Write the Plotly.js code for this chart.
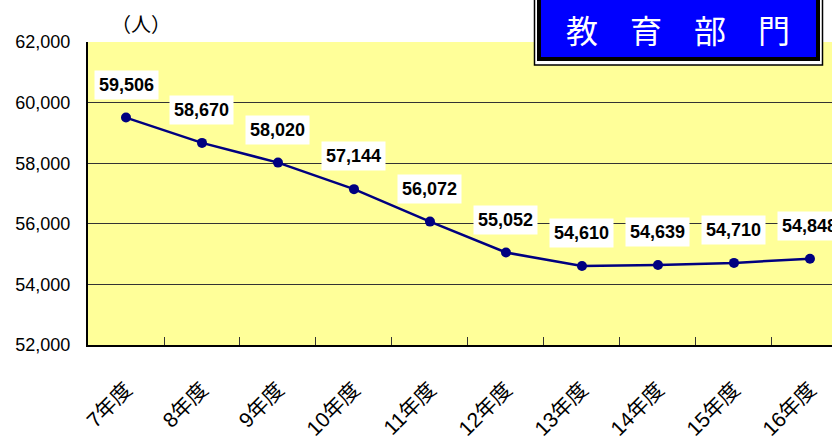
<!DOCTYPE html>
<html><head><meta charset="utf-8">
<script src="https://cdn.plot.ly/plotly-3.0.1.min.js"></script>
<style>body{margin:0;padding:0;background:#fff}#chart{width:832px;height:443px}</style>
</head><body><div id="chart"></div>
<script>
const categories = ["7年度","8年度","9年度","10年度","11年度","12年度","13年度","14年度","15年度","16年度"];
const values = [59506, 58670, 58020, 57144, 56072, 55052, 54610, 54639, 54710, 54848];
const yTicks = [52000, 54000, 56000, 58000, 60000, 62000];
const yTickLabels = ["52,000","54,000","56,000","58,000","60,000","62,000"];
const unitLabel = "（人）";
const titleText = "教　育　部　門";

const numFont = "'Liberation Sans', Arial, sans-serif";
const cjkFont = "'Liberation Sans', 'Noto Sans CJK JP', sans-serif";

const L = 88, T = 42, PW = 744, PH = 303;
const px = x => (x - L) / PW;
const py = y => (T + PH - y) / PH;

const trace = {
  x: categories, y: values, type: "scatter", mode: "lines+markers",
  line: {color: "#000080", width: 2.5},
  marker: {color: "#000080", size: 10},
  hoverinfo: "skip", showlegend: false, cliponaxis: false
};

const annotations = categories.map((c, i) => ({
  x: c, y: values[i], xref: "x", yref: "y",
  text: "<b>" + values[i].toLocaleString("en-US") + "</b>",
  showarrow: false, yshift: 33,
  bgcolor: "#ffffff", borderpad: 4,
  font: {family: numFont, size: 18, color: "#000"}
}));
annotations.push({
  xref: "paper", yref: "paper", x: px(141), y: py(23), yanchor: "middle", xanchor: "center",
  text: unitLabel, showarrow: false,
  font: {family: "'Noto Sans CJK JP', sans-serif", size: 20, color: "#000"}
});
annotations.push({
  xref: "paper", yref: "paper", x: px(678), y: py(29), xanchor: "center", yanchor: "middle",
  text: titleText, showarrow: false,
  font: {family: "'Noto Sans CJK JP', sans-serif", size: 32, color: "#ffffff"}
});

const layout = {
  width: 832, height: 443,
  margin: {l: L, r: 0, t: T, b: 443 - T - PH},
  paper_bgcolor: "#ffffff", plot_bgcolor: "#ffff99",
  xaxis: {
    type: "category", range: [-0.5, 9.29],
    tickson: "boundaries", ticks: "inside", ticklen: 8, tickcolor: "#333",
    showgrid: false, showline: true, linecolor: "#000", linewidth: 2,
    tickangle: -45, ticklabelstandoff: 22,
    tickfont: {family: cjkFont, size: 21, color: "#000"},
    fixedrange: true
  },
  yaxis: {
    range: [52000, 62000], tickvals: yTicks, ticktext: yTickLabels,
    showgrid: true, gridcolor: "#333", gridwidth: 1,
    showline: true, linecolor: "#000", linewidth: 2, mirror: true,
    ticks: "", ticklabelstandoff: 12,
    tickfont: {family: numFont, size: 18, color: "#000"}, zeroline: false
  },
  annotations: annotations,
  shapes: [
    {type: "rect", xref: "paper", yref: "paper", layer: "above",
     x0: px(534.5), x1: px(822.5), y0: py(65), y1: py(-5),
     fillcolor: "#ffffff", line: {color: "#000", width: 1.5}},
    {type: "rect", xref: "paper", yref: "paper", layer: "above",
     x0: px(539), x1: px(818), y0: py(59), y1: py(-5),
     fillcolor: "#0000ff", line: {color: "#000", width: 4}}
  ]
};
Plotly.newPlot("chart", [trace], layout, {staticPlot: true});
</script></body></html>
